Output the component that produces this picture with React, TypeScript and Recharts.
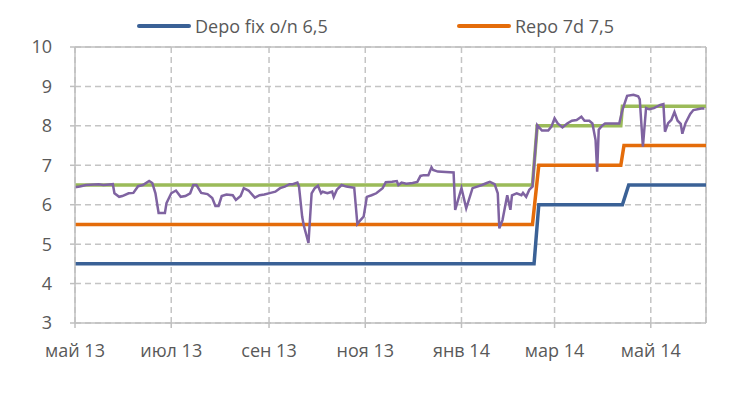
import React from "react";
import {
  LineChart,
  Line,
  XAxis,
  YAxis,
  CartesianGrid,
  Legend,
  ReferenceLine,
} from "recharts";

// x values are days since 1 May 2013
const monthTickDays = [0, 61, 123, 184, 245, 304, 365];
const monthTickLabels = ["май 13", "июл 13", "сен 13", "ноя 13", "янв 14", "мар 14", "май 14"];
const yTicks = [3, 4, 5, 6, 7, 8, 9, 10];

const depoDays = [0, 291, 294, 347, 351, 400];
const depoValues = [4.5, 4.5, 6, 6, 6.5, 6.5];

const repoDays = [0, 290, 294, 346, 348, 400];
const repoValues = [5.5, 5.5, 7, 7, 7.5, 7.5];

const upperDays = [0, 290, 293, 346, 347, 400];
const upperValues = [6.5, 6.5, 8, 8, 8.5, 8.5];

const marketDays = [
  0, 3, 7, 15, 18, 24, 25, 28, 30, 34, 37, 40, 43, 47, 49, 51, 53, 57, 58, 61,
  64, 67, 70, 73, 75, 77, 80, 84, 87, 89, 91, 93, 96, 100, 102, 105, 107, 110, 114, 117,
  120, 124, 127, 130, 133, 136, 138, 141, 142, 144, 145, 148, 150, 152, 154, 156, 157, 160, 163, 164,
  166, 169, 172, 177, 179, 181, 183, 185, 188, 191, 195, 197, 201, 204, 205, 207, 210, 214, 217, 219,
  221, 224, 226, 227, 230, 235, 240, 241, 245, 248, 252, 255, 258, 261, 263, 266, 268, 269, 271, 274,
  276, 277, 280, 283, 284, 286, 288, 290, 293, 296, 300, 302, 304, 306, 309, 312, 315, 318, 321, 323,
  326, 328, 330, 331, 332, 334, 336, 340, 345, 347, 350, 354, 357, 358, 360, 362, 364, 367, 371, 373,
  374, 376, 378, 380, 382, 384, 385, 387, 390, 392, 397, 399,
];
const marketValues = [
  6.44, 6.46, 6.5, 6.52, 6.5, 6.52, 6.29, 6.2, 6.22, 6.29, 6.3, 6.47, 6.5, 6.6, 6.55, 6.29, 5.79, 5.79, 6.04, 6.29,
  6.36, 6.2, 6.22, 6.29, 6.5, 6.5, 6.3, 6.27, 6.17, 5.97, 5.97, 6.22, 6.26, 6.24, 6.12, 6.22, 6.42, 6.36, 6.18, 6.24,
  6.26, 6.3, 6.33, 6.42, 6.46, 6.52, 6.52, 6.56, 6.46, 5.7, 5.48, 5.03, 6.29, 6.42, 6.48, 6.29, 6.33, 6.29, 6.33, 6.2,
  6.38, 6.5, 6.46, 6.43, 5.51, 5.61, 5.7, 6.2, 6.24, 6.29, 6.42, 6.57, 6.58, 6.6, 6.5, 6.56, 6.53, 6.55, 6.58, 6.73,
  6.75, 6.75, 6.95, 6.88, 6.84, 6.83, 6.82, 5.87, 6.42, 5.91, 6.42, 6.46, 6.5, 6.55, 6.58, 6.52, 6.29, 5.4, 5.61, 6.24,
  5.87, 6.24, 6.29, 6.24, 6.3, 6.2, 6.38, 6.46, 8.02, 7.88, 7.88, 7.98, 8.19, 8.06, 7.96, 8.06, 8.13, 8.15, 8.23, 8.13,
  8.13, 8.06, 7.64, 6.84, 7.9, 8.0, 8.06, 8.06, 8.06, 8.4, 8.76, 8.79, 8.75, 8.67, 7.47, 8.45, 8.42, 8.45, 8.53, 8.55,
  7.85, 8.07, 8.15, 8.35, 8.13, 8.05, 7.8, 8.07, 8.3, 8.4, 8.44, 8.44,
];

const toPoints = (days: number[], values: number[]) =>
  days.map((d, i) => ({ d, v: values[i] }));

const depoData = toPoints(depoDays, depoValues);
const repoData = toPoints(repoDays, repoValues);
const upperData = toPoints(upperDays, upperValues);
const marketData = toPoints(marketDays, marketValues);

const FONT = "'Open Sans', sans-serif";
const TEXT = "#595959";
const GRID = "#C4C4C4";
const AXIS = "#BFBFBF";

const BLUE = "#3A6196";
const ORANGE = "#E46C0A";
const GREEN = "#9BBB59";
const PURPLE = "#7F63A1";

const legendItems = [
  { name: "Depo fix o/n 6,5", color: BLUE, left: 137 },
  { name: "Repo 7d 7,5", color: ORANGE, left: 457 },
];

const renderLegend = () => (
  <div style={{ position: "relative", width: 746, height: 24, fontFamily: FONT, fontSize: 18, color: TEXT }}>
    {legendItems.map((it) => (
      <div
        key={it.name}
        style={{ position: "absolute", left: it.left, top: 0, height: 24, display: "flex", alignItems: "center", whiteSpace: "nowrap" }}
      >
        <div style={{ width: 54, height: 4, borderRadius: 2, background: it.color, marginRight: 4 }} />
        <span>{it.name}</span>
      </div>
    ))}
  </div>
);

export default function App() {
  return (
    <div style={{ position: "absolute", left: 0, top: 0, width: 746, height: 401, background: "#fff" }}>
      <LineChart width={746} height={401} margin={{ top: 23, right: 40, bottom: 48, left: 0 }}>
        <CartesianGrid stroke={GRID} strokeDasharray="6 4" strokeWidth={1.5} />
        <XAxis
          dataKey="d"
          type="number"
          domain={[0, 400]}
          ticks={monthTickDays}
          tickFormatter={(d: number) => monthTickLabels[monthTickDays.indexOf(d)]}
          allowDataOverflow
          height={30}
          tickSize={5}
          tickMargin={16}
          axisLine={{ stroke: AXIS, strokeWidth: 1.5 }}
          tickLine={{ stroke: AXIS, strokeWidth: 1.5 }}
          tick={{ fill: TEXT, fontSize: 18, fontFamily: FONT }}
          interval={0}
        />
        <YAxis
          type="number"
          domain={[3, 10]}
          ticks={yTicks}
          width={75}
          tickSize={5}
          tickMargin={18}
          axisLine={{ stroke: AXIS, strokeWidth: 1.5 }}
          tickLine={{ stroke: AXIS, strokeWidth: 1.5 }}
          tick={{ fill: TEXT, fontSize: 18, fontFamily: FONT }}
          interval={0}
        />
        <ReferenceLine y={10} stroke={AXIS} strokeWidth={1.5} />
        <ReferenceLine x={400} stroke={AXIS} strokeWidth={1.5} />
        <Legend verticalAlign="top" content={renderLegend} wrapperStyle={{ top: 14, left: 0, width: 746, height: 24 }} />
        <Line data={depoData} dataKey="v" name="Depo fix o/n 6,5" stroke={BLUE} strokeWidth={3.5} dot={false} type="linear" isAnimationActive={false} />
        <Line data={repoData} dataKey="v" name="Repo 7d 7,5" stroke={ORANGE} strokeWidth={3.5} dot={false} type="linear" isAnimationActive={false} />
        <Line data={upperData} dataKey="v" name="Верхняя граница" legendType="none" stroke={GREEN} strokeWidth={3.5} dot={false} type="linear" isAnimationActive={false} />
        <Line data={marketData} dataKey="v" name="Ставка рынка" legendType="none" stroke={PURPLE} strokeWidth={2.5} dot={false} type="linear" isAnimationActive={false} />
      </LineChart>
    </div>
  );
}
